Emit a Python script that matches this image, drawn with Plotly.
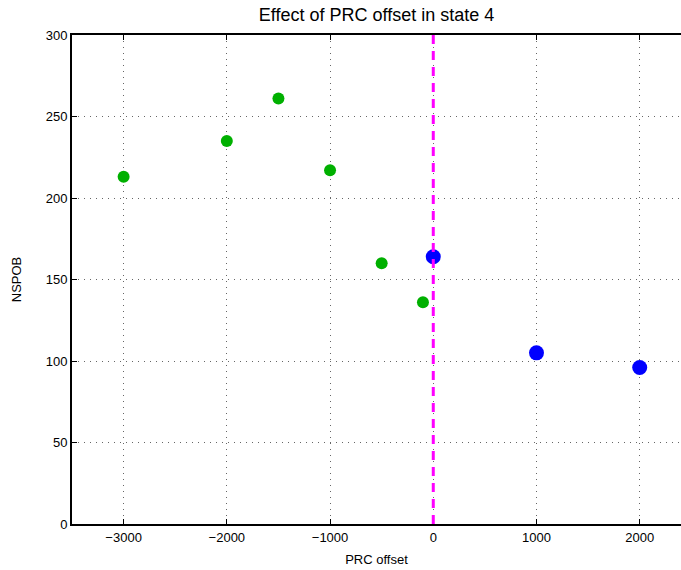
import plotly.graph_objects as go

green_x = [-3000, -2000, -1500, -1000, -500, -100]
green_y = [213, 235, 261, 217, 160, 136]
blue_x = [0, 1000, 2000]
blue_y = [164, 105, 96]
x_ticks = [-3000, -2000, -1000, 0, 1000, 2000]
x_labels = ["\u22123000", "\u22122000", "\u22121000", "0", "1000", "2000"]
y_ticks = [0, 50, 100, 150, 200, 250, 300]
vline_x = 0

fig = go.Figure()
fig.add_shape(type="line", x0=vline_x, x1=vline_x, y0=0, y1=1, yref="paper",
              line=dict(color="#ff00ff", width=3, dash="9px,7px"), layer="above")
fig.add_trace(go.Scatter(x=green_x, y=green_y, mode="markers",
                         marker=dict(color="#00b000", size=12), showlegend=False))
fig.add_trace(go.Scatter(x=blue_x, y=blue_y, mode="markers",
                         marker=dict(color="#0000ff", size=15), showlegend=False))

axis_common = dict(showline=True, linecolor="black", linewidth=2,
                   ticks="inside", ticklen=5, tickcolor="black", tickwidth=1,
                   showgrid=True, gridcolor="#666666", griddash="1px,5px", gridwidth=1,
                   zeroline=False, tickfont=dict(size=13, color="black"))

fig.update_layout(
    width=681, height=570,
    margin=dict(l=72, r=0, t=35, b=46),
    paper_bgcolor="white", plot_bgcolor="white",
    font=dict(family="Liberation Sans, Arial, sans-serif", color="black"),
    title=dict(text="Effect of PRC offset in state 4", x=(72 + 681) / 2 / 681,
               xanchor="center", y=1 - 15 / 570, yanchor="middle",
               font=dict(size=18, color="black")),
    xaxis=dict(range=[-3500, 2400], tickvals=x_ticks, ticktext=x_labels,
               mirror="ticks",
               title=dict(text="PRC offset", font=dict(size=13), standoff=11),
               **axis_common),
    yaxis=dict(range=[0, 300], tickvals=y_ticks,
               title=dict(text="NSPOB", font=dict(size=13), standoff=21),
               **axis_common),
)
fig.write_html("out.html", config={"displayModeBar": False},
               post_script="document.body.style.margin='0';document.body.style.padding='0';")
